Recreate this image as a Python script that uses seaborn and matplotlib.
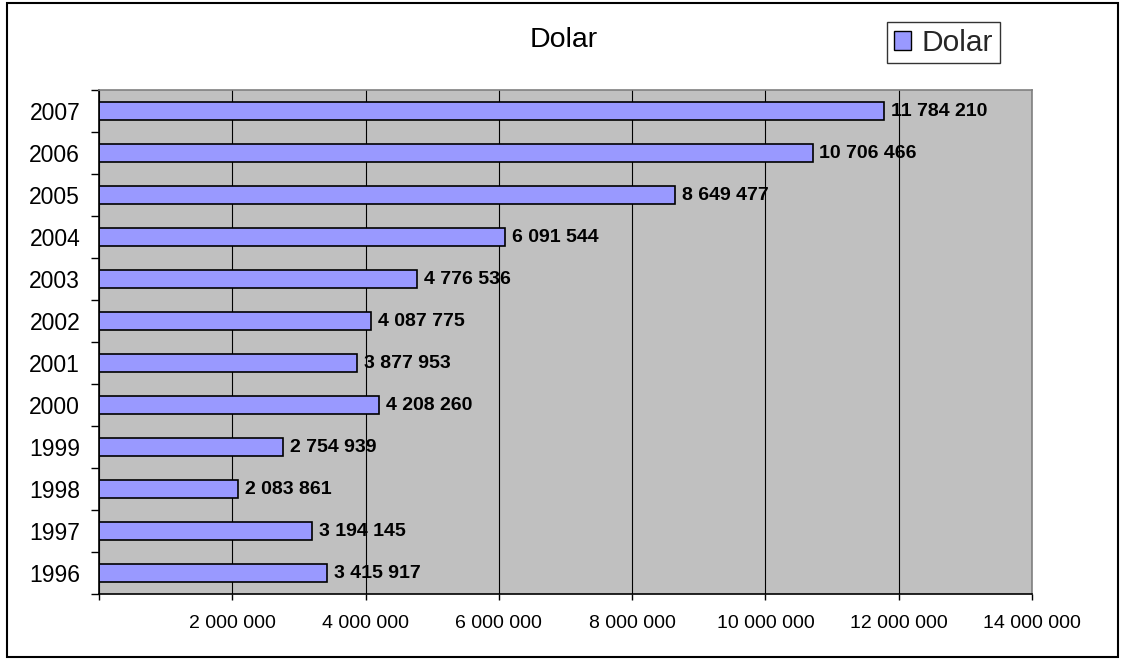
import matplotlib
matplotlib.use("Agg")
import matplotlib.pyplot as plt
import matplotlib.patches as mpatches
import matplotlib.ticker as mticker
import seaborn as sns
import pandas as pd

years = ["2007", "2006", "2005", "2004", "2003", "2002", "2001", "2000", "1999", "1998", "1997", "1996"]
dolar = [11784210, 10706466, 8649477, 6091544, 4776536, 4087775, 3877953, 4208260, 2754939, 2083861, 3194145, 3415917]
series_name = "Dolar"
x_ticks = [0, 2000000, 4000000, 6000000, 8000000, 10000000, 12000000, 14000000]

sns.set_theme(style="white")
plt.rcParams['font.family'] = ['Liberation Sans', 'DejaVu Sans']

df = pd.DataFrame({"Year": years, "Value": dolar, "Series": series_name})

fig = plt.figure(figsize=(11.22, 6.59), dpi=100)
ax = fig.add_axes([99/1122, 1 - 594/659, (1032-99)/1122, (594-90)/659])
ax.set_facecolor("#C0C0C0")

sns.barplot(data=df, y="Year", x="Value", hue="Series", order=years,
            palette=["#9999FF"], orient="h", width=0.42, edgecolor="black",
            linewidth=1.2, ax=ax, legend=False, saturation=1)

ax.set_xlim(0, 14000000)
ax.set_ylim(len(years) - 0.5, -0.5)
ax.set_xticks(x_ticks)
ax.xaxis.set_major_formatter(mticker.FuncFormatter(
    lambda v, p: "" if v == 0 else f"{int(v):,}".replace(",", " ")))
ax.grid(axis="x", color="black", linewidth=0.8)
ax.set_axisbelow(True)

# y ticks at category boundaries
ax.set_yticks([i - 0.5 for i in range(len(years) + 1)], minor=False)
ax.set_yticklabels([""] * (len(years) + 1))
ax.set_yticks(range(len(years)), minor=True)
ax.set_yticklabels(years, minor=True)
ax.tick_params(axis="y", which="major", direction="out", length=6, width=1, color="black", left=True)
ax.tick_params(axis="y", which="minor", length=0, labelsize=16.5, pad=13.5, labelcolor="black")
ax.tick_params(axis="x", direction="out", length=4, width=1, color="black", bottom=True,
               labelsize=14, pad=11, labelcolor="black")
ax.set_xlabel("")
ax.set_ylabel("")

for s in ["left", "bottom"]:
    ax.spines[s].set_color("black")
    ax.spines[s].set_linewidth(1.2)
for s in ["top", "right"]:
    ax.spines[s].set_color("#808080")
    ax.spines[s].set_linewidth(1.2)

for i, v in enumerate(dolar):
    ax.annotate(f"{v:,}".replace(",", " "), xy=(v, i), xytext=(5, 0),
                textcoords="offset points", va="center", ha="left",
                fontsize=14, fontweight="bold", color="black")

fig.text(564/1122, 1 - 40/659, "Dolar", ha="center", va="center", fontsize=20.5, color="black")

handle = mpatches.Patch(facecolor="#9999FF", edgecolor="black", linewidth=1, label=series_name)
leg = fig.legend(handles=[handle], loc="upper left", bbox_to_anchor=(887/1122, 1 - 22/659),
                 bbox_transform=fig.transFigure, fontsize=21.5, frameon=True, fancybox=False,
                 edgecolor="black", handlelength=0.6, handleheight=0.6, handletextpad=0.35,
                 borderpad=0.22, borderaxespad=0)
leg.get_frame().set_linewidth(1)

border = mpatches.Rectangle((7/1122, 1 - 657/659), (1118-7)/1122, (657-3)/659,
                            transform=fig.transFigure, fill=False, edgecolor="black",
                            linewidth=1.5)
fig.patches.append(border)

fig.savefig("out.png", dpi=100)
